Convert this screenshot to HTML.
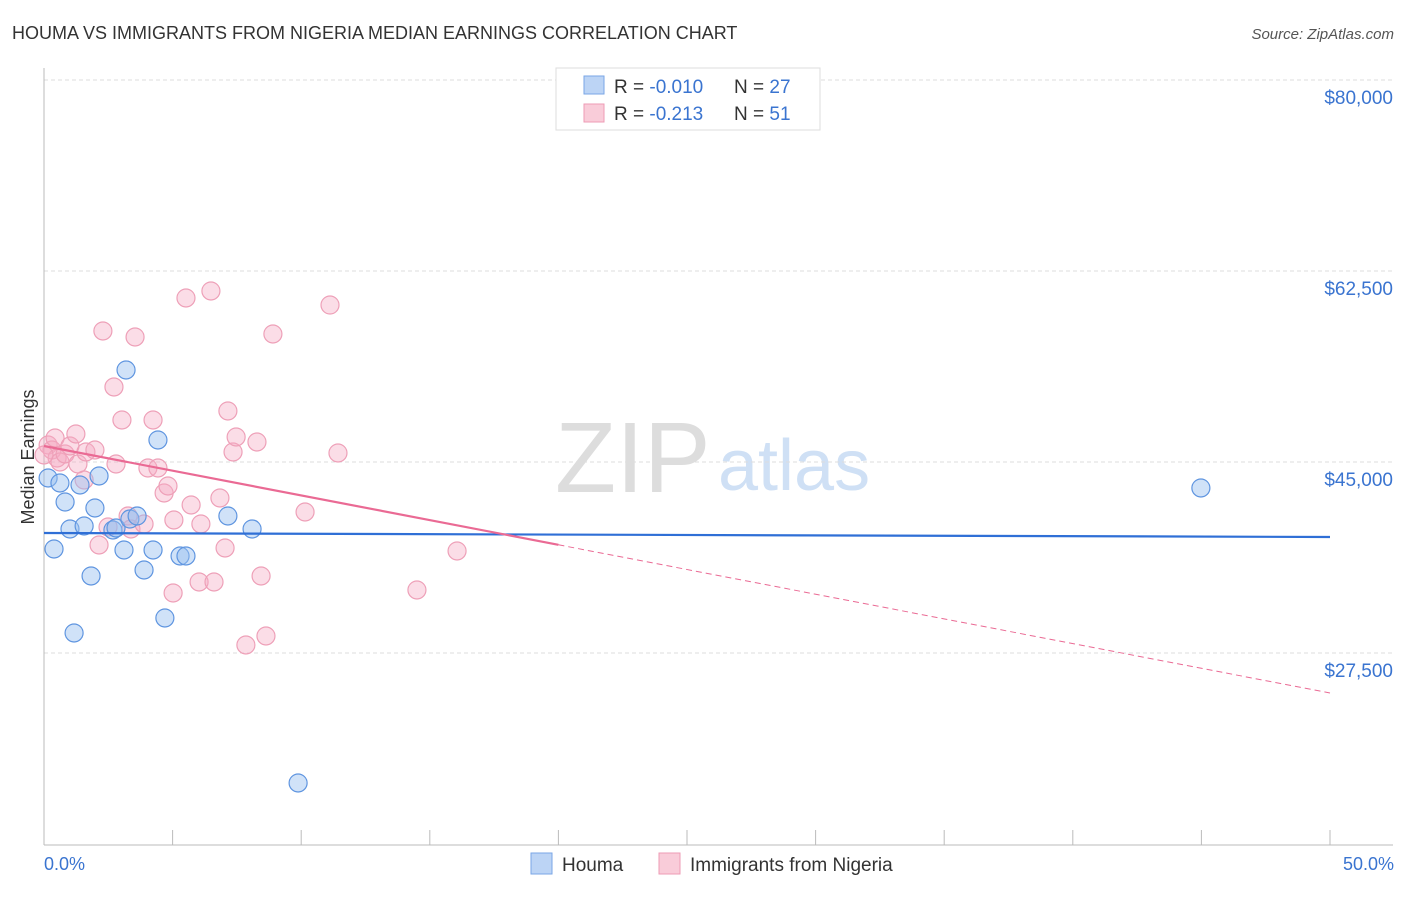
<!DOCTYPE html>
<html><head><meta charset="utf-8"><style>
body{margin:0;background:#fff;font-family:"Liberation Sans",sans-serif}
svg text{font-family:"Liberation Sans",sans-serif}
</style></head><body>
<svg id="c" width="1406" height="892">
<text x="12" y="39" font-size="18" fill="#333">HOUMA VS IMMIGRANTS FROM NIGERIA MEDIAN EARNINGS CORRELATION CHART</text>
<text x="1394" y="39" font-size="15" fill="#555" text-anchor="end" font-style="italic">Source: ZipAtlas.com</text>
<text x="555" y="492" font-size="100" fill="#ddd" font-family="Liberation Serif">ZIP</text>
<text x="718" y="490" font-size="72" fill="#cfe0f5">atlas</text>
<g id="grid"></g><g id="axes"></g><g id="pts"></g><g id="trend"></g>
<text transform="translate(34,457) rotate(-90)" font-size="18" fill="#333" text-anchor="middle">Median Earnings</text>
<text x="44" y="870" font-size="18" fill="#3a74d0">0.0%</text>
<text x="1394" y="870" font-size="18" fill="#3a74d0" text-anchor="end">50.0%</text>
<g>
<rect x="556" y="68" width="264" height="62" fill="#fff" stroke="#ddd"/>
<rect x="584" y="76" width="20" height="18" fill="#bcd4f5" stroke="#7aa6e6"/>
<rect x="584" y="104" width="20" height="18" fill="#f9ccd9" stroke="#ee9bb5"/>
<text x="614" y="93" font-size="19" fill="#333">R = <tspan fill="#3a74d0">-0.010</tspan></text>
<text x="734" y="93" font-size="19" fill="#333">N = <tspan fill="#3a74d0">27</tspan></text>
<text x="614" y="120" font-size="19" fill="#333">R =  <tspan fill="#3a74d0">-0.213</tspan></text>
<text x="734" y="120" font-size="19" fill="#333">N =  <tspan fill="#3a74d0">51</tspan></text>
</g>
<g>
<rect x="531" y="853" width="21" height="21" fill="#bcd4f5" stroke="#7aa6e6"/>
<text x="562" y="871" font-size="19" fill="#333">Houma</text>
<rect x="659" y="853" width="21" height="21" fill="#f9ccd9" stroke="#ee9bb5"/>
<text x="690" y="871" font-size="19" fill="#333">Immigrants from Nigeria</text>
</g>
</svg>
<script>
const yTicks=[80000,62500,45000,27500];
const yTickLabels=["$80,000","$62,500","$45,000","$27,500"];
const xTicks=[0,5,10,15,20,25,30,35,40,45,50];
const houmaX=[0.16,0.39,0.62,0.82,1.01,1.17,1.40,1.56,1.83,1.98,2.14,2.68,2.80,3.11,3.19,3.34,3.62,3.89,4.24,4.43,4.70,5.29,5.52,7.15,8.09,9.88,44.98];
const houmaY=[43535,37030,43077,41336,38863,29334,42894,39137,34556,40787,43718,38771,38954,36939,53430,39779,40054,35106,36939,47017,30708,36389,36389,40054,38863,15591,42619];
const nigX=[0.16,0.31,0.43,0.51,0.62,0.82,1.01,1.24,1.32,1.56,1.63,1.98,2.14,2.29,2.49,2.72,2.80,3.03,3.27,3.38,3.54,3.89,4.04,4.24,4.43,4.67,4.82,5.02,5.05,5.52,5.72,6.03,6.10,6.49,6.61,6.84,7.04,7.15,7.35,7.47,7.85,8.28,8.44,8.63,8.90,10.15,11.12,11.43,14.50,16.06,0.0];
const nigY=[46559,46101,47200,45368,45001,45734,46467,47567,44818,43352,45917,46101,37397,57003,39046,51873,44818,48849,40054,38863,56454,39321,44451,48849,44451,42161,42802,32999,39687,60027,41061,34007,39321,60668,34007,41703,37122,49674,45917,47292,28235,46834,34556,29059,56729,40420,59385,45826,33274,36847,45642];
const houmaTrend=[38496,38130];
const nigTrend=[46466,23836];
const NS="http://www.w3.org/2000/svg";
const X=p=>44+p*25.72, Y=v=>80+(80000-v)*191/17500;
function mk(t,a,parent){const e=document.createElementNS(NS,t);for(const k in a)e.setAttribute(k,a[k]);document.getElementById(parent).appendChild(e);return e;}
yTicks.forEach((v,i)=>{
 const l=mk('line',{x1:44,x2:1393,y1:Y(v),y2:Y(v),stroke:'#ddd','stroke-dasharray':'4,3'},'grid');
 
 
 const t=mk('text',{x:1393,y:Y(v)+24,'font-size':19,fill:'#3a74d0','text-anchor':'end'},'grid');
 t.textContent=yTickLabels[i];
 
 
});
let a=mk('line',{x1:44,x2:44,y1:68,y2:845,stroke:'#bbb'},'axes');


a=mk('line',{x1:44,x2:1393,y1:845,y2:845,stroke:'#bbb'},'axes');


xTicks.forEach(p=>{const t=mk('line',{x1:X(p),x2:X(p),y1:830,y2:845,stroke:'#bbb'},'axes');
 
 });
nigX.forEach((x,i)=>{const c=mk('circle',{cx:X(x),cy:Y(nigY[i]),r:9,fill:'rgba(246,170,195,0.4)',stroke:'#eea0b8','stroke-width':1.2},'pts');
 
 });
houmaX.forEach((x,i)=>{const c=mk('circle',{cx:X(x),cy:Y(houmaY[i]),r:9,fill:'rgba(150,190,240,0.45)',stroke:'#5f95e0','stroke-width':1.2},'pts');
 
 });
let tl=mk('line',{x1:X(0),x2:X(50),y1:Y(houmaTrend[0]),y2:Y(houmaTrend[1]),stroke:'#2f6fd6','stroke-width':2.2},'trend');


const nAt=p=>nigTrend[0]+(nigTrend[1]-nigTrend[0])*p/50;
tl=mk('line',{x1:X(0),x2:X(20),y1:Y(nAt(0)),y2:Y(nAt(20)),stroke:'#ea6a94','stroke-width':2.2},'trend');


tl=mk('line',{x1:X(20),x2:X(50),y1:Y(nAt(20)),y2:Y(nAt(50)),stroke:'#ea6a94','stroke-width':1,'stroke-dasharray':'6,4'},'trend');


</script>
</body></html>
